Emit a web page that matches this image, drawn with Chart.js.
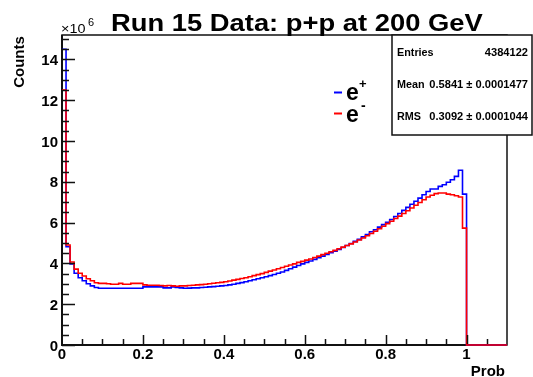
<!DOCTYPE html>
<html>
<head>
<meta charset="utf-8">
<script src="https://cdn.jsdelivr.net/npm/chart.js@4/dist/chart.umd.min.js"></script>
<style>
  body { margin: 0; background: #fff; }
  #wrap { width: 533px; height: 377px; }
</style>
</head>
<body>
<div id="wrap"><canvas id="grafico" width="533" height="377"></canvas></div>
<script>
// histogram: 110 bins of width 0.01 from 0 to 1.1, counts in units of 10^6
const binWidth = 0.01;
const nBins = 110;
const binLow = Array.from({ length: nBins }, (_, i) => +(i * binWidth).toFixed(2));

const positronCounts = [
  14.5, 4.82, 3.98, 3.52, 3.3, 3.15, 3.0, 2.9, 2.82, 2.78,
  2.78, 2.78, 2.78, 2.78, 2.78, 2.78, 2.78, 2.78, 2.78, 2.78,
  2.85, 2.85, 2.85, 2.85, 2.85, 2.8, 2.8, 2.85, 2.82, 2.8,
  2.78, 2.79, 2.8, 2.8, 2.82, 2.83, 2.85, 2.86, 2.88, 2.9,
  2.92, 2.95, 2.98, 3.02, 3.06, 3.1, 3.15, 3.2, 3.25, 3.3,
  3.35, 3.4, 3.46, 3.52, 3.58, 3.66, 3.74, 3.82, 3.9, 3.98,
  4.05, 4.12, 4.2, 4.28, 4.36, 4.44, 4.52, 4.6, 4.68, 4.78,
  4.88, 4.98, 5.08, 5.18, 5.3, 5.42, 5.55, 5.65, 5.78, 5.9,
  6.02, 6.15, 6.3, 6.45, 6.6, 6.75, 6.9, 7.05, 7.2, 7.37,
  7.53, 7.65, 7.65, 7.78, 7.86, 7.98, 8.1, 8.27, 8.57, 7.4,
  0, 0, 0, 0, 0, 0, 0, 0, 0, 0
];
const electronCounts = [
  12.5, 4.9, 4.07, 3.72, 3.52, 3.38, 3.25, 3.15, 3.05, 3.02,
  3.02, 3.0, 2.98, 2.98, 3.02, 2.98, 2.98, 3.02, 3.02, 3.02,
  2.95, 2.93, 2.93, 2.93, 2.92, 2.9, 2.92, 2.9, 2.88, 2.9,
  2.9, 2.92, 2.93, 2.95, 2.96, 2.98, 3.0, 3.03, 3.05, 3.07,
  3.1, 3.14, 3.18, 3.22, 3.26, 3.3, 3.35, 3.4, 3.45, 3.5,
  3.56, 3.62, 3.68, 3.74, 3.8, 3.86, 3.92, 3.98, 4.05, 4.1,
  4.16, 4.22, 4.29, 4.36, 4.43, 4.5, 4.57, 4.64, 4.72, 4.8,
  4.88, 4.96, 5.05, 5.15, 5.25, 5.36, 5.47, 5.58, 5.7, 5.82,
  5.95, 6.07, 6.2, 6.32, 6.45, 6.58, 6.72, 6.85, 6.99, 7.12,
  7.26, 7.34, 7.42, 7.45, 7.45, 7.4, 7.37, 7.32, 7.26, 5.73,
  0, 0, 0, 0, 0, 0, 0, 0, 0, 0
];

const xMajorTicks = [0, 0.2, 0.4, 0.6, 0.8, 1.0];
const xTickLabels = ["0", "0.2", "0.4", "0.6", "0.8", "1"];
const yMajorTicks = [0, 2, 4, 6, 8, 10, 12, 14];
const yTickLabels = ["0", "2", "4", "6", "8", "10", "12", "14"];

const statsLabels = ["Entries", "Mean", "RMS"];
const statsValues = ["4384122", "0.5841 \u00b1 0.0001477", "0.3092 \u00b1 0.0001044"];

// points at lower bin edges, plus the upper edge of the last bin
const toPoints = (vals) => {
    const pts = binLow.map((x, i) => ({ x, y: vals[i] }));
    pts.push({ x: +(nBins * binWidth).toFixed(2), y: vals[nBins - 1] });
    return pts;
};

function txt(ctx, s, x, y, font, align, sx) {
    ctx.save();
    ctx.font = font;
    ctx.fillStyle = "#000";
    ctx.textAlign = align || "left";
    ctx.textBaseline = "alphabetic";
    ctx.translate(x, y);
    ctx.scale(sx || 1, 1);
    ctx.fillText(s, 0, 0);
    ctx.restore();
}

const FONT = "'Liberation Sans', Arial, sans-serif";

const rootStyle = {
    id: "rootStyle",
    beforeDatasetsDraw(chart) {
        const ctx = chart.ctx;
        const a = chart.chartArea;
        ctx.save();
        ctx.strokeStyle = "#111";
        ctx.lineWidth = 1.5;
        ctx.strokeRect(a.left, a.top, a.right - a.left, a.bottom - a.top);
        ctx.lineWidth = 2;
        ctx.beginPath();
        ctx.moveTo(a.left, a.top); ctx.lineTo(a.left, a.bottom); ctx.lineTo(a.right, a.bottom);
        ctx.stroke();
        ctx.restore();
    },
    afterDatasetsDraw(chart) {
        const ctx = chart.ctx;
        const xs = chart.scales.x, ys = chart.scales.y;
        const a = chart.chartArea;
        // ticks
        ctx.save();
        ctx.strokeStyle = "#111";
        ctx.lineWidth = 1.5;
        ctx.beginPath();
        for (let k = 0; k <= 30; k++) {
            const v = k * 0.5;
            const py = Math.round(ys.getPixelForValue(v)) + 0.5;
            const len = k % 4 === 0 ? 13 : 7;
            ctx.moveTo(a.left, py); ctx.lineTo(a.left + len, py);
        }
        for (let k = 1; k <= 21; k++) {
            const v = k * 0.05;
            const px = Math.round(xs.getPixelForValue(v)) + 0.5;
            const len = k % 4 === 0 ? 10 : 6;
            ctx.moveTo(px, a.bottom - 1); ctx.lineTo(px, a.bottom - len);
        }
        ctx.stroke();
        ctx.restore();
        // tick labels
        yMajorTicks.forEach((v, i) => {
            txt(ctx, yTickLabels[i], a.left - 4, ys.getPixelForValue(v) + 5.5, "bold 15px " + FONT, "right");
        });
        xMajorTicks.forEach((v, i) => {
            txt(ctx, xTickLabels[i], xs.getPixelForValue(v), a.bottom + 14, "bold 15px " + FONT, "center");
        });
        // title
        txt(ctx, "Run 15 Data: p+p at 200 GeV", 111, 31, "bold 24px " + FONT, "left", 1.14);
        // exponent
        txt(ctx, "\u00d710", 61, 33, "12px " + FONT, "left", 1.2);
        txt(ctx, "6", 88, 26, "10px " + FONT, "left", 1.1);
        // axis titles
        txt(ctx, "Prob", a.right - 2, 376, "bold 15px " + FONT, "right");
        ctx.save();
        ctx.translate(24, 62);
        ctx.rotate(-Math.PI / 2);
        txt(ctx, "Counts", 0, 0, "bold 15px " + FONT, "center");
        ctx.restore();
        // legend
        ctx.save();
        ctx.lineWidth = 2;
        ctx.strokeStyle = "#0000ff";
        ctx.beginPath(); ctx.moveTo(334, 92.5); ctx.lineTo(342, 92.5); ctx.stroke();
        ctx.strokeStyle = "#ff0000";
        ctx.beginPath(); ctx.moveTo(334, 113.5); ctx.lineTo(342, 113.5); ctx.stroke();
        ctx.restore();
        txt(ctx, "e", 346, 100, "bold 23px " + FONT, "left");
        txt(ctx, "+", 359, 88, "bold 13px " + FONT, "left");
        txt(ctx, "e", 346, 122, "bold 23px " + FONT, "left");
        txt(ctx, "-", 361, 110, "bold 14px " + FONT, "left");
        // stats box
        ctx.save();
        ctx.fillStyle = "#fff";
        ctx.fillRect(392, 35, 140, 100);
        ctx.strokeStyle = "#111";
        ctx.lineWidth = 1.5;
        ctx.strokeRect(392, 35, 140, 100);
        ctx.restore();
        statsLabels.forEach((s, i) => {
            const y = 56 + i * 32;
            txt(ctx, s, 397, y, "bold 10px " + FONT, "left", 1.08);
            txt(ctx, statsValues[i], 528, y, "bold 10px " + FONT, "right", 1.11);
        });
    }
};

new Chart(document.getElementById("grafico"), {
    type: "line",
    data: {
        datasets: [
            {
                label: "e-",
                data: toPoints(electronCounts),
                borderColor: "#ff0000",
                borderWidth: 1.6,
                stepped: "before",
                pointRadius: 0,
                fill: false,
                clip: 3
            },
            {
                label: "e+",
                data: toPoints(positronCounts),
                borderColor: "#0000ff",
                borderWidth: 1.6,
                stepped: "before",
                pointRadius: 0,
                fill: false,
                clip: 3
            }
        ]
    },
    options: {
        responsive: false,
        animation: false,
        layout: { padding: { left: 62, top: 35, right: 26, bottom: 32 } },
        scales: {
            x: { type: "linear", min: 0, max: 1.1, display: false },
            y: { type: "linear", min: 0, max: 15.2, display: false }
        },
        plugins: { legend: { display: false }, tooltip: { enabled: false }, title: { display: false } }
    },
    plugins: [rootStyle]
});
</script>
</body>
</html>
